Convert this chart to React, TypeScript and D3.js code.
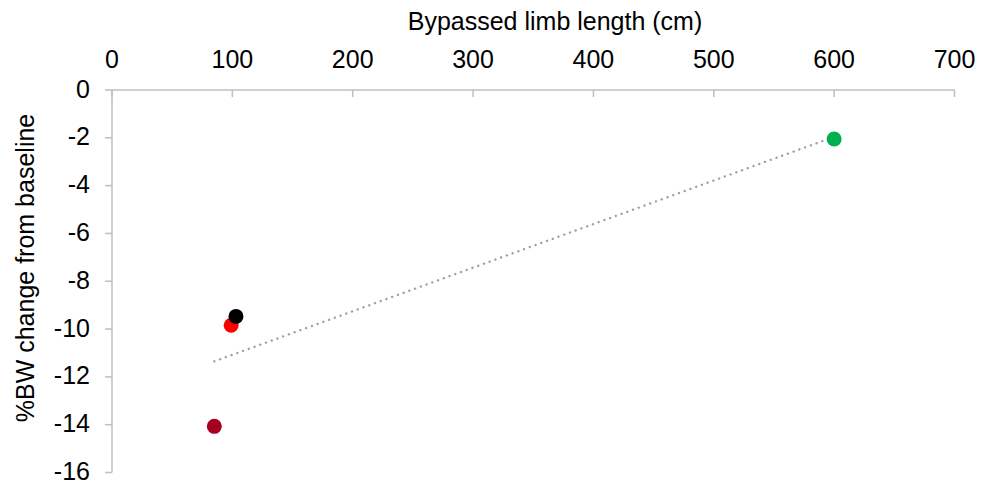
import React from "react";
import * as d3 from "d3";

const xValues = [85, 99, 103, 600];
const yValues = [-14.07, -9.84, -9.47, -2.05];
const pointColors = ["#A50021", "#FF0000", "#000000", "#00B050"];
const xTicks = [0, 100, 200, 300, 400, 500, 600, 700];
const yTicks = [0, -2, -4, -6, -8, -10, -12, -14, -16];

export default function App() {
  const W = 983, H = 483;
  const x = d3.scaleLinear().domain([0, 700]).range([112, 954.5]);
  const y = d3.scaleLinear().domain([0, -16]).range([90, 472.5]);
  const n = xValues.length;
  const mx = d3.mean(xValues)!;
  const my = d3.mean(yValues)!;
  let sxy = 0, sxx = 0;
  for (let i = 0; i < n; i++) {
    sxy += (xValues[i] - mx) * (yValues[i] - my);
    sxx += (xValues[i] - mx) ** 2;
  }
  const slope = sxy / sxx;
  const icpt = my - slope * mx;
  const x0 = d3.min(xValues)!, x1 = d3.max(xValues)!;
  const axisColor = "#BFBFBF";
  const font = "'Liberation Sans', Arial, sans-serif";
  const fs = 25;
  return (
    <svg width={W} height={H} style={{ position: "absolute", left: 0, top: 0 }} fontFamily={font}>
      <rect width={W} height={H} fill="#fff" />
      <line x1={x(0)} x2={x(700)} y1={y(0)} y2={y(0)} stroke={axisColor} strokeWidth={1.5} />
      <line x1={x(0)} x2={x(0)} y1={y(0)} y2={y(-16)} stroke={axisColor} strokeWidth={1.5} />
      {xTicks.map((t) => (
        <g key={"x" + t}>
          <line x1={x(t)} x2={x(t)} y1={y(0)} y2={y(0) + 7} stroke={axisColor} strokeWidth={1.5} />
          <text x={x(t)} y={68} textAnchor="middle" fontSize={fs} fill="#000">{t}</text>
        </g>
      ))}
      {yTicks.map((t) => (
        <g key={"y" + t}>
          <line x1={x(0) - 7} x2={x(0)} y1={y(t)} y2={y(t)} stroke={axisColor} strokeWidth={1.5} />
          <text x={90} y={y(t) + 7.5} textAnchor="end" fontSize={fs} fill="#000">{t}</text>
        </g>
      ))}
      <text x={555} y={30} textAnchor="middle" fontSize={fs} fill="#000">Bypassed limb length (cm)</text>
      <text transform={`translate(34,${268}) rotate(-90)`} textAnchor="middle" fontSize={fs} fill="#000">%BW change from baseline</text>
      <line x1={x(x0)} y1={y(slope * x0 + icpt)} x2={x(x1)} y2={y(slope * x1 + icpt)}
        stroke="#A0A0A0" strokeWidth={2.4} strokeDasharray="0.1 6" strokeLinecap="round" />
      {xValues.map((v, i) => (
        <circle key={i} cx={x(v)} cy={y(yValues[i])} r={7.5} fill={pointColors[i]} />
      ))}
    </svg>
  );
}
